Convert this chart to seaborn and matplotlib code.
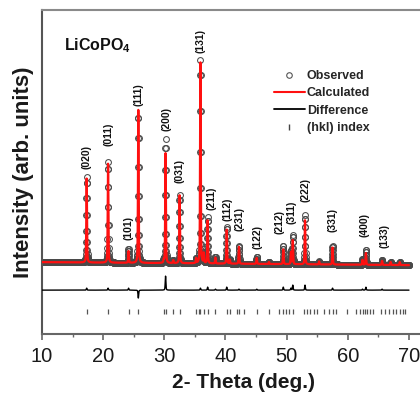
import numpy as np
import pandas as pd
import matplotlib
matplotlib.use("Agg")
import matplotlib.pyplot as plt
from matplotlib.lines import Line2D
from matplotlib.ticker import MultipleLocator
import seaborn as sns

# ---- Rietveld refinement of LiCoPO4 -------------------------------------
# Reflections: 2-theta position (deg) and peak height above background
peak_pos = [17.30, 20.80, 24.15, 25.75, 29.90, 30.20, 31.45, 32.50, 35.20,
            35.90, 36.45, 37.08, 38.35, 40.20, 40.70, 42.20, 45.10, 47.10,
            49.45, 50.70, 51.00, 53.00, 55.30, 57.50, 62.40, 62.95, 65.60,
            67.00, 68.50]
obs_height = [86, 101, 14, 148, 3, 124, 3, 68, 5,
              203, 10, 46, 7, 37, 4, 18, 7, 2,
              18, 14, 29, 49, 3, 19, 6, 15, 5,
              3, 3]
calc_height = [84, 99, 12, 156, 3, 110, 3, 68, 5,
               201, 10, 43, 6, 34, 4, 17, 6, 2,
               15, 12, 24, 44, 3, 17, 5, 12, 4,
               3, 3]
background_start = 72.0   # background level at 10 deg
background_end = 69.0     # background level at 70 deg

# Indexed reflections shown as labels
hkl_labels = ["(020)", "(011)", "(101)", "(111)", "(200)", "(031)", "(131)",
              "(211)", "(112)", "(231)", "(122)", "(212)", "(311)", "(222)",
              "(331)", "(400)", "(133)"]
hkl_label_peak = [17.30, 20.80, 24.15, 25.75, 30.20, 32.50, 35.90,
                  37.08, 40.20, 42.20, 45.10, 49.45, 51.00, 53.00,
                  57.50, 62.95, 65.60]

# Allowed Bragg positions (hkl index ticks)
bragg_pos = [17.3, 20.8, 24.2, 25.75, 29.9, 30.2, 31.45, 32.5, 35.2, 35.6,
             35.9, 36.5, 37.1, 38.3, 40.2, 40.7, 41.8, 42.2, 43.0, 45.1,
             47.1, 48.8, 49.45, 49.95, 50.45, 51.0, 52.9, 53.35, 53.85,
             54.45, 55.0, 56.1, 56.9, 57.55, 58.1, 59.8, 61.3, 61.95, 62.4,
             62.85, 63.15, 63.6, 64.15, 65.5, 66.05, 66.75, 67.4, 67.95,
             68.5, 68.95, 69.3]

# ---- layout (vertical offsets in axis units) -----------------------------
diff_offset = 44.0
tick_lo, tick_hi = 20.0, 25.5
label_x_shift = [0.05, 0.0, -0.05, 0.1, 0.2, 0.05, 0.03,
                 0.6, 0.1, 0.15, 0.1, -0.55, -0.2, 0.1,
                 0.0, -0.15, 0.45]
label_gap = [8, 16, 9, 12, 8, 12, 7,
             7, 6, 15, 8, 12, 11, 13,
             14, 13, 12]


def pseudo_voigt(x, x0, h, fwhm=0.13, eta=0.4):
    d = (x - x0) / fwhm
    g = np.exp(-4 * np.log(2) * d ** 2)
    lo = 1.0 / (1.0 + 4 * d ** 2)
    return h * (eta * lo + (1 - eta) * g)


two_theta = np.round(np.arange(10.0, 70.0001, 0.02), 2)
bg = background_start + (background_end - background_start) * (two_theta - 10) / 60
y_obs = bg.copy()
y_calc = bg.copy()
for p, ho, hc in zip(peak_pos, obs_height, calc_height):
    y_obs += pseudo_voigt(two_theta, p, ho)
    y_calc += pseudo_voigt(two_theta, p, hc)

df = pd.DataFrame({"two_theta": two_theta, "obs": y_obs, "calc": y_calc,
                   "diff": y_obs - y_calc + diff_offset})

# ---- figure --------------------------------------------------------------
sns.set_theme(style="ticks")
plt.rcParams["font.family"] = ["Liberation Sans", "DejaVu Sans"]
plt.rcParams["mathtext.fontset"] = "custom"
plt.rcParams["mathtext.rm"] = "Liberation Sans"
plt.rcParams["mathtext.bf"] = "Liberation Sans:bold"

fig = plt.figure(figsize=(4.2, 3.94), dpi=100)
ax = fig.add_axes([0.10, 0.152, 0.90, 0.822])

sns.lineplot(data=df, x="two_theta", y="obs", ax=ax, estimator=None, sort=False,
             linestyle="none", marker="o", markersize=4.2,
             markerfacecolor="none", markeredgecolor="#4a4a4a",
             markeredgewidth=0.75, zorder=2)
sns.lineplot(data=df, x="two_theta", y="calc", ax=ax, estimator=None, sort=False,
             color="#ff1010", linewidth=1.6, zorder=3)
sns.lineplot(data=df, x="two_theta", y="diff", ax=ax, estimator=None, sort=False,
             color="black", linewidth=1.0, zorder=3)
ax.vlines(bragg_pos, tick_lo, tick_hi, color="#555555", linewidth=0.9)

# reflection labels
for lab, p, dx, gap in zip(hkl_labels, hkl_label_peak, label_x_shift, label_gap):
    top = df.loc[(df.two_theta - p).abs() < 0.15, "obs"].max()
    ax.text(p + dx, top + gap, lab, rotation=90, ha="center", va="bottom",
            fontsize=7.5, fontweight="bold", color="#111111")

ax.text(0.058, 0.875, r"LiCoPO$_{\mathbf{4}}$", transform=ax.transAxes,
        fontsize=11.5, fontweight="bold", color="#111111")

handles = [
    Line2D([], [], linestyle="none", marker="o", markersize=4,
           markerfacecolor="none", markeredgecolor="#555555", markeredgewidth=0.8),
    Line2D([], [], color="#ff1010", linewidth=1.5),
    Line2D([], [], color="black", linewidth=1.3),
    Line2D([], [], linestyle="none", marker="|", markersize=5, color="#444444"),
]
ax.legend(handles, ["Observed", "Calculated", "Difference", "(hkl) index"],
          loc="upper left", bbox_to_anchor=(0.652, 0.822),
          bbox_transform=fig.transFigure, frameon=False,
          prop={"weight": "bold", "size": 9}, handlelength=2.5,
          handletextpad=0.15, labelspacing=0.42, borderpad=0, borderaxespad=0)

ax.set_xlim(10, 71.8)
ax.set_ylim(0, 324)
ax.set_yticks([])
ax.xaxis.set_major_locator(MultipleLocator(10))
ax.xaxis.set_minor_locator(MultipleLocator(5))
ax.set_xticks([10, 20, 30, 40, 50, 60, 70])
ax.tick_params(axis="x", which="major", direction="out", length=4, width=1.2,
               color="#666666", labelsize=14.5, labelcolor="#1a1a1a", pad=5)
ax.tick_params(axis="x", which="minor", direction="out", length=2.5, width=1.0,
               color="#666666")

ax.set_xlabel("2- Theta (deg.)", fontsize=15, fontweight="bold", color="#1a1a1a")
ax.set_ylabel("Intensity (arb. units)", fontsize=16, fontweight="bold",
              color="#1a1a1a")
ax.xaxis.set_label_coords(0.532, -0.12)
ax.yaxis.set_label_coords(-0.02, 0.5)

for side in ["left", "bottom", "top"]:
    ax.spines[side].set_linewidth(1.5)
ax.spines["left"].set_color("#555555")
ax.spines["bottom"].set_color("#666666")
ax.spines["top"].set_color("#8a8a8a")
ax.spines["right"].set_visible(False)

fig.savefig("out.png", dpi=100)
